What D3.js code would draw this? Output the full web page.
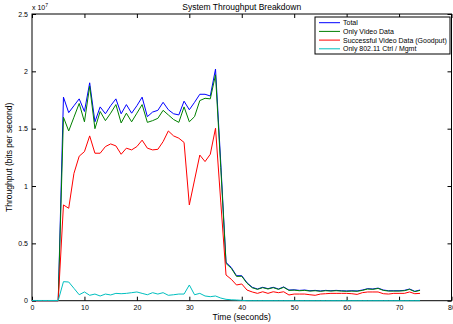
<!DOCTYPE html>
<html>
<head>
<meta charset="utf-8">
<script src="https://cdn.jsdelivr.net/npm/d3@7"></script>
<style>
  body { margin: 0; background: #fff; }
  text { font-family: "Liberation Sans", Arial, sans-serif; fill: #000; }
</style>
</head>
<body>
<div id="chart"></div>
<script>
// time in seconds, values in units of 10^7 bits per second
var time = [0,1,2,3,4,5,6,7,8,9,10,11,12,13,14,15,16,17,18,19,20,21,22,23,24,
  25,26,27,28,29,30,31,32,33,34,35,36,37,38,39,40,41,42,43,44,45,46,47,48,49,
  50,51,52,53,54,55,56,57,58,59,60,61,62,63,64,65,66,67,68,69,70,71,72,73,74];

var total = [0,0,0,0,0,0,1.775,1.64,1.70,1.76,1.65,1.90,1.56,1.69,1.63,1.70,1.76,
  1.63,1.71,1.635,1.70,1.775,1.605,1.645,1.66,1.73,1.665,1.63,1.62,1.74,1.665,
  1.73,1.80,1.80,1.785,2.02,1.20,0.335,0.29,0.218,0.218,0.157,0.117,0.102,0.117,
  0.105,0.117,0.102,0.12,0.093,0.095,0.09,0.093,0.087,0.09,0.085,0.09,0.087,0.09,
  0.087,0.085,0.087,0.085,0.093,0.105,0.102,0.11,0.093,0.087,0.087,0.087,0.09,
  0.102,0.082,0.093];

var videoOnly = [0,0,0,0,0,0,1.60,1.48,1.60,1.72,1.56,1.87,1.50,1.65,1.57,1.635,
  1.71,1.55,1.635,1.56,1.635,1.71,1.555,1.57,1.59,1.66,1.62,1.58,1.555,1.69,1.56,
  1.605,1.745,1.765,1.76,1.97,1.16,0.325,0.283,0.212,0.213,0.152,0.113,0.099,
  0.114,0.102,0.114,0.099,0.117,0.09,0.092,0.087,0.09,0.084,0.087,0.082,0.087,
  0.084,0.087,0.084,0.082,0.084,0.082,0.09,0.102,0.099,0.107,0.09,0.084,0.084,
  0.084,0.087,0.099,0.079,0.09];

var goodput = [0,0,0,0,0,0,0.835,0.806,1.11,1.26,1.30,1.437,1.286,1.286,1.344,
  1.367,1.35,1.277,1.33,1.315,1.344,1.40,1.33,1.315,1.32,1.387,1.48,1.437,1.417,
  1.38,0.835,1.053,1.27,1.213,1.277,1.504,0.86,0.224,0.187,0.137,0.146,0.093,
  0.076,0.064,0.078,0.064,0.078,0.07,0.078,0.05,0.058,0.058,0.058,0.052,0.047,
  0.058,0.061,0.064,0.064,0.064,0.064,0.061,0.055,0.07,0.076,0.076,0.076,0.061,
  0.058,0.064,0.064,0.064,0.076,0.061,0.064];

var ctrlMgmt = [0.002,0.002,0.002,0.002,0.002,0.002,0.166,0.163,0.108,0.052,0.076,
  0.047,0.058,0.041,0.058,0.05,0.064,0.061,0.064,0.07,0.076,0.064,0.052,0.07,
  0.058,0.07,0.047,0.052,0.058,0.058,0.137,0.052,0.064,0.041,0.035,0.041,0.023,
  0.012,0.008,0.006,0.003,0,0,0,0,0,0,0,0,0,0,0,0,0,0,0,0,0,0,0,0,0,0,0,0,0,0,
  0,0,0,0,0,0,0,0];

var seriesNames = ['Total', 'Only Video Data', 'Successful Video Data (Goodput)', 'Only 802.11 Ctrl / Mgmt'];
var seriesColors = ['#0000ff', '#007f00', '#ff0000', '#00bfbf'];
var xTicks = [0,10,20,30,40,50,60,70,80];
var yTicks = [0,0.5,1,1.5,2,2.5];

var width = 453,
    height = 324,
    plotLeft = 32,
    plotRight = 451.5,
    plotTop = 14,
    plotBottom = 300.7;

var svg = d3.select('#chart').append('svg').attr('width', width).attr('height', height);

var xScale = d3.scaleLinear().domain([0, 80]).range([plotLeft, plotRight]);
var yScale = d3.scaleLinear().domain([0, 2.5]).range([plotBottom, plotTop]);

// frame
svg.append('rect')
  .attr('x', plotLeft).attr('y', plotTop)
  .attr('width', plotRight - plotLeft).attr('height', plotBottom - plotTop)
  .attr('fill', 'none').attr('stroke', '#000').attr('stroke-width', 1);

function styleAxis(g) {
  g.select('.domain').remove();
  g.selectAll('.tick line').attr('stroke', '#000');
  g.selectAll('.tick text').style('font-size', '7px').attr('fill', '#000');
}

svg.append('g')
  .attr('transform', 'translate(0,' + plotBottom + ')')
  .call(d3.axisBottom(xScale).tickValues(xTicks).tickSize(-4).tickPadding(4))
  .call(styleAxis);
svg.append('g')
  .attr('transform', 'translate(0,' + plotTop + ')')
  .call(d3.axisTop(xScale).tickValues(xTicks).tickSize(-4).tickFormat(''))
  .call(styleAxis);
svg.append('g')
  .attr('transform', 'translate(' + plotLeft + ',0)')
  .call(d3.axisLeft(yScale).tickValues(yTicks).tickSize(-4).tickPadding(4).tickFormat(d3.format('~g')))
  .call(styleAxis);
svg.append('g')
  .attr('transform', 'translate(' + plotRight + ',0)')
  .call(d3.axisRight(yScale).tickValues(yTicks).tickSize(-4).tickFormat(''))
  .call(styleAxis);

// lines
var allSeries = [total, videoOnly, goodput, ctrlMgmt];
var line = d3.line()
  .x(function(d, i) { return xScale(time[i]); })
  .y(function(d) { return yScale(d); });

svg.append('g').selectAll('path')
  .data(allSeries)
  .enter().append('path')
  .attr('d', line)
  .attr('fill', 'none')
  .attr('stroke', function(d, i) { return seriesColors[i]; })
  .attr('stroke-width', 1);

// texts
svg.append('text')
  .attr('x', (plotLeft + plotRight) / 2).attr('y', 9.5)
  .attr('text-anchor', 'middle').style('font-size', '8.5px')
  .text('System Throughput Breakdown');

svg.append('text')
  .attr('x', (plotLeft + plotRight) / 2).attr('y', 319.5)
  .attr('text-anchor', 'middle').style('font-size', '8.5px')
  .text('Time (seconds)');

svg.append('text')
  .attr('transform', 'translate(12,' + (plotTop + plotBottom) / 2 + ') rotate(-90)')
  .attr('text-anchor', 'middle').style('font-size', '8.5px')
  .text('Throughput (bits per second)');

var mult = svg.append('text').attr('x', 32).attr('y', 10).style('font-size', '7px');
mult.append('tspan').text('x 10');
mult.append('tspan').attr('dy', -3.5).style('font-size', '5px').text('7');

// legend
var legend = svg.append('g');
legend.append('rect')
  .attr('x', 315).attr('y', 17).attr('width', 135).attr('height', 37)
  .attr('fill', '#fff').attr('stroke', '#000').attr('stroke-width', 1);

var item = legend.selectAll('.item')
  .data(seriesNames)
  .enter().append('g')
  .attr('transform', function(d, i) { return 'translate(0,' + (22.7 + i * 8.7) + ')'; });

item.append('line')
  .attr('x1', 319).attr('x2', 340)
  .attr('stroke', function(d, i) { return seriesColors[i]; })
  .attr('stroke-width', 1);

item.append('text')
  .attr('x', 343).attr('dy', '0.35em')
  .style('font-size', '7px')
  .text(function(d) { return d; });
</script>
</body>
</html>
